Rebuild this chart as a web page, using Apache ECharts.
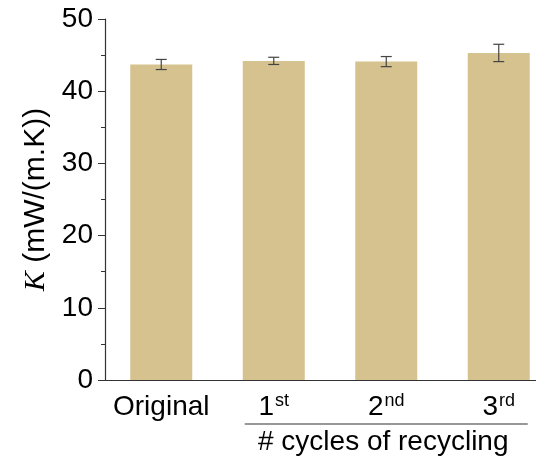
<!DOCTYPE html>
<html><head><meta charset="utf-8">
<script src="https://cdn.jsdelivr.net/npm/echarts@6/dist/echarts.min.js"></script>
<style>html,body{margin:0;padding:0;background:#fff}#c{width:536px;height:464px}</style>
</head><body><div id="c"></div>
<script>
const categories = ['Original', '1st', '2nd', '3rd'];
const labelMain = ['Original', '1', '2', '3'];
const labelSup = ['', 'st', 'nd', 'rd'];
const values = [43.7, 44.2, 44.1, 45.3];
const errors = [0.7, 0.5, 0.7, 1.2];
const yTicks = [0, 10, 20, 30, 40, 50];
const groupTitle = '# cycles of recycling';

const font = '"Liberation Sans", Arial, sans-serif';
const chart = echarts.init(document.getElementById('c'));
const option = {
  animation: false,
  grid: { left: 105, top: 19, height: 361, width: 450, outerBoundsMode: 'none', containLabel: false },
  xAxis: {
    type: 'category', data: categories,
    axisLine: { lineStyle: { color: '#333', width: 1.2 } },
    axisTick: { alignWithLabel: true, length: 6, lineStyle: { color: '#333' } },
    axisLabel: {
      margin: 12,
      formatter: (v, i) => labelSup[i] ? '{b|' + labelMain[i] + '}{s|' + labelSup[i] + '}' : '{b|' + labelMain[i] + '}',
      rich: {
        b: { fontFamily: font, fontSize: 28, color: '#000', lineHeight: 30 },
        s: { fontFamily: font, fontSize: 18, color: '#000', verticalAlign: 'top', lineHeight: 30, padding: [0, 0, 14, 1] }
      }
    }
  },
  yAxis: {
    type: 'value', min: yTicks[0], max: yTicks[yTicks.length - 1], interval: 10,
    axisLine: { show: true, lineStyle: { color: '#333', width: 1.2 } },
    axisTick: { show: true, length: 7, lineStyle: { color: '#333' } },
    minorTick: { show: true, splitNumber: 2, length: 4, lineStyle: { color: '#333' } },
    splitLine: { show: false },
    axisLabel: { fontFamily: font, fontSize: 28, color: '#000', margin: 12 },
    name: '{i|K}{n| (mW/(m.K))}',
    nameLocation: 'middle', nameGap: 42, nameRotate: 90,
    nameTextStyle: {
      rich: {
        i: { fontFamily: '"Liberation Serif", "DejaVu Serif", serif', fontStyle: 'italic', fontSize: 30, color: '#000' },
        n: { fontFamily: font, fontSize: 30, color: '#000' }
      }
    }
  },
  series: [
    {
      type: 'bar', data: values, barWidth: 62,
      itemStyle: { color: '#d6c28e' }
    },
    {
      type: 'custom',
      data: values.map((v, i) => [i, v - errors[i], v + errors[i]]),
      z: 5,
      renderItem: function (params, api) {
        const x = api.value(0);
        const lo = api.coord([x, api.value(1)]);
        const hi = api.coord([x, api.value(2)]);
        const hw = 5.5;
        const st = { stroke: '#444', lineWidth: 1.2 };
        return { type: 'group', children: [
          { type: 'line', shape: { x1: lo[0], y1: lo[1], x2: hi[0], y2: hi[1] }, style: st },
          { type: 'line', shape: { x1: lo[0] - hw, y1: lo[1], x2: lo[0] + hw, y2: lo[1] }, style: st },
          { type: 'line', shape: { x1: hi[0] - hw, y1: hi[1], x2: hi[0] + hw, y2: hi[1] }, style: st }
        ]};
      }
    }
  ]
};
chart.setOption(option);
const p1 = chart.convertToPixel({ xAxisIndex: 0 }, 1);
const p3 = chart.convertToPixel({ xAxisIndex: 0 }, 3);
const base = chart.convertToPixel({ yAxisIndex: 0 }, 0);
const lx1 = p1 - 29, lx2 = p3 + 29;
chart.setOption({
  graphic: [
    { type: 'line', shape: { x1: lx1, y1: base + 44, x2: lx2, y2: base + 44 }, style: { stroke: '#333', lineWidth: 1.2 } },
    { type: 'text', x: (lx1 + lx2) / 2 - 3, y: base + 62, style: { text: groupTitle, font: '28px ' + font, fill: '#000', align: 'center', verticalAlign: 'middle' } }
  ]
});
</script></body></html>
